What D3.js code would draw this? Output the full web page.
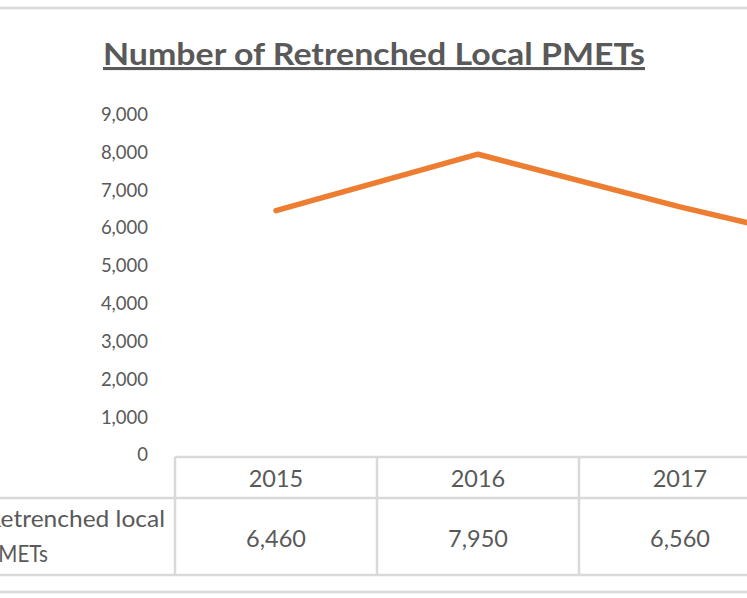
<!DOCTYPE html>
<html>
<head>
<meta charset="utf-8">
<script src="https://cdn.jsdelivr.net/npm/d3@7"></script>
<style>
  body { margin: 0; background: #fff; }
  svg { display: block; font-family: Lato, "Open Sans", sans-serif; }
  .title { font-weight: bold; text-decoration: underline; }
  .tick text { fill: #595959; }
</style>
</head>
<body>
<svg width="747" height="598"></svg>
<script>
// data (2018 column sits off the cropped edge, value estimated from the line)
const years = ["2015", "2016", "2017", "2018"]
const retrenched = [6460, 7950, 6560, 5300]
const yTicks = [0, 1000, 2000, 3000, 4000, 5000, 6000, 7000, 8000, 9000]
const rowLabel = ["Retrenched local", "PMETs"]
const chartTitle = "Number of Retrenched Local PMETs"

const svg = d3.select("svg")
const gridColor = "#d9d9d9"
const textColor = "#595959"

var x = d3.scaleBand()
    .domain(years)
    .range([175, 175 + 202 * years.length])
    .padding(0)

var y = d3.scaleLinear()
    .domain([0, 9000])
    .range([455, 114.5])

// chart frame lines (top and bottom, sides cropped)
svg.append("line")
    .attr("x1", 0).attr("x2", 747)
    .attr("y1", 8).attr("y2", 8)
    .attr("stroke", gridColor)
    .attr("stroke-width", 2.5)

svg.append("line")
    .attr("x1", 0).attr("x2", 747)
    .attr("y1", 592).attr("y2", 592)
    .attr("stroke", gridColor)
    .attr("stroke-width", 2.5)

svg.append("text")
    .attr("class", "title")
    .attr("x", 103)
    .attr("y", 65)
    .attr("textLength", 542)
    .attr("lengthAdjust", "spacingAndGlyphs")
    .attr("fill", textColor)
    .style("font-size", "31px")
    .text(chartTitle)

// y axis, labels only
svg.append("g")
    .attr("transform", "translate(175,0)")
    .call(d3.axisLeft(y).tickValues(yTicks).tickSize(0).tickPadding(27).tickFormat(d3.format(",")))
    .call(g => g.select(".domain").remove())
    .selectAll("text")
    .style("font-size", "18.5px")
    .style("font-family", "Lato, 'Open Sans', sans-serif")

// data table
var table = svg.append("g").attr("class", "data-table")
var tTop = 457, tMid = 498, tBot = 575

table.append("line")
    .attr("x1", x.range()[0]).attr("x2", x.range()[1])
    .attr("y1", tTop).attr("y2", tTop)
    .attr("stroke", gridColor).attr("stroke-width", 2.5)

table.selectAll("line.hrow")
    .data([tMid, tBot])
    .join("line")
    .attr("class", "hrow")
    .attr("x1", -20).attr("x2", x.range()[1])
    .attr("y1", d => d).attr("y2", d => d)
    .attr("stroke", gridColor).attr("stroke-width", 2.5)

table.selectAll("line.vcol")
    .data(years.concat(["end"]))
    .join("line")
    .attr("class", "vcol")
    .attr("x1", (d, i) => x.range()[0] + i * x.bandwidth())
    .attr("x2", (d, i) => x.range()[0] + i * x.bandwidth())
    .attr("y1", tTop).attr("y2", tBot)
    .attr("stroke", gridColor).attr("stroke-width", 2.5)

table.selectAll("text.year")
    .data(years)
    .join("text")
    .attr("class", "year")
    .attr("x", d => x(d) + x.bandwidth() / 2)
    .attr("y", 487)
    .attr("text-anchor", "middle")
    .attr("fill", textColor)
    .style("font-size", "23.5px")
    .text(d => d)

table.selectAll("text.val")
    .data(retrenched)
    .join("text")
    .attr("class", "val")
    .attr("x", (d, i) => x(years[i]) + x.bandwidth() / 2)
    .attr("y", 547)
    .attr("text-anchor", "middle")
    .attr("fill", textColor)
    .style("font-size", "23.5px")
    .text(d => d3.format(",")(d))

// row label, partly cut at the left edge like the source crop
table.append("text")
    .attr("x", -14)
    .attr("y", 527)
    .attr("textLength", 179)
    .attr("lengthAdjust", "spacingAndGlyphs")
    .attr("fill", textColor)
    .style("font-size", "23.5px")
    .text(rowLabel[0])

table.append("text")
    .attr("x", -14)
    .attr("y", 562)
    .attr("textLength", 62)
    .attr("lengthAdjust", "spacingAndGlyphs")
    .attr("fill", textColor)
    .style("font-size", "23.5px")
    .text(rowLabel[1])

// the line
var line = d3.line()
    .x((d, i) => x(years[i]) + x.bandwidth() / 2)
    .y(d => y(d))

svg.append("path")
    .datum(retrenched)
    .attr("d", line)
    .attr("fill", "none")
    .attr("stroke", "#ED7D31")
    .attr("stroke-width", 5.5)
    .attr("stroke-linejoin", "round")
    .attr("stroke-linecap", "round")
</script>
</body>
</html>
